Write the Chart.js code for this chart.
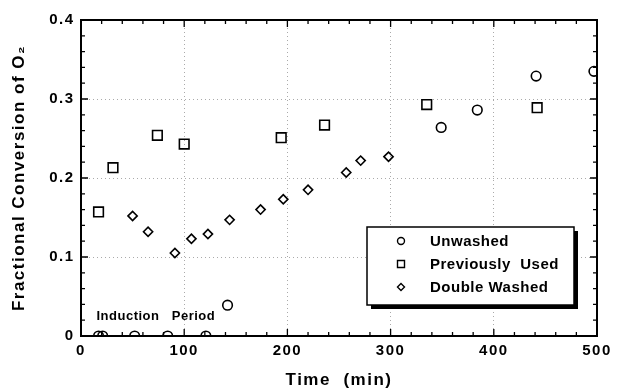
<!DOCTYPE html>
<html>
<head>
<meta charset="utf-8">
<script src="https://cdn.jsdelivr.net/npm/chart.js@4/dist/chart.umd.min.js"></script>
<style>
  html, body { margin: 0; padding: 0; background: #fff; }
  #wrap { width: 619px; height: 391px; }
</style>
</head>
<body>
<div id="wrap"><canvas id="chart" width="619" height="391"></canvas></div>
<script>
// ---- data ----
const unwashedX = [17, 21, 52, 84, 121, 142, 349, 384, 441, 497];
const unwashedY = [0, 0, 0, 0, 0, 0.039, 0.264, 0.286, 0.329, 0.335];

const usedX = [17, 31, 74, 100, 194, 236, 335, 442];
const usedY = [0.157, 0.213, 0.254, 0.243, 0.251, 0.267, 0.293, 0.289];

const doubleX = [50, 65, 91, 107, 123, 144, 174, 196, 220, 257, 271, 298];
const doubleY = [0.152, 0.132, 0.105, 0.123, 0.129, 0.147, 0.160, 0.173, 0.185, 0.207, 0.222, 0.227];

const xTicks = [0, 100, 200, 300, 400, 500];
const yTicks = [0, 0.1, 0.2, 0.3, 0.4];

const seriesNames = ["Unwashed", "Previously  Used", "Double Washed"];
const annotation = { text: "Induction   Period", x: 15, y: 0.025 };

function toPoints(xs, ys) {
    return xs.map((x, i) => ({ x: x, y: ys[i] }));
}

const FONT = "'Liberation Sans', Arial, sans-serif";

// the original lettering is widely spaced
const spacingPlugin = {
    id: 'spacing',
    beforeDraw(chart) { chart.ctx.letterSpacing = '1.5px'; },
    afterDraw(chart) { chart.ctx.letterSpacing = '0px'; }
};

// ---- frame, inward ticks, legend, annotation ----
const framePlugin = {
    id: 'frame',
    afterDatasetsDraw(chart) {
        const ctx = chart.ctx;
        const a = chart.chartArea;
        const xs = chart.scales.x, ys = chart.scales.y;
        ctx.save();
        ctx.strokeStyle = '#000';

        // minor + major ticks pointing inward
        ctx.lineWidth = 1.3;
        for (let v = 0; v <= 500; v += 20) {
            const px = xs.getPixelForValue(v);
            const len = (v % 100 === 0) ? 7 : 4;
            ctx.beginPath();
            ctx.moveTo(px, a.bottom); ctx.lineTo(px, a.bottom - len);
            ctx.moveTo(px, a.top); ctx.lineTo(px, a.top + len);
            ctx.stroke();
        }
        for (let i = 0; i <= 20; i++) {
            const v = i * 0.02;
            const py = ys.getPixelForValue(v);
            const len = (i % 5 === 0) ? 7 : 4;
            ctx.beginPath();
            ctx.moveTo(a.left, py); ctx.lineTo(a.left + len, py);
            ctx.moveTo(a.right, py); ctx.lineTo(a.right - len, py);
            ctx.stroke();
        }

        // frame
        ctx.lineWidth = 2;
        ctx.strokeRect(a.left, a.top, a.right - a.left, a.bottom - a.top);

        // annotation text
        ctx.letterSpacing = '0.5px';
        ctx.fillStyle = '#000';
        ctx.font = "bold 13px " + FONT;
        ctx.textAlign = 'left';
        ctx.textBaseline = 'middle';
        ctx.fillText(annotation.text, xs.getPixelForValue(annotation.x), ys.getPixelForValue(annotation.y));

        // legend box with shadow
        const bx = 367, by = 227, bw = 207, bh = 78;
        ctx.fillStyle = '#000';
        ctx.fillRect(bx + 4, by + 4, bw, bh);
        ctx.fillStyle = '#fff';
        ctx.fillRect(bx, by, bw, bh);
        ctx.lineWidth = 1.5;
        ctx.strokeRect(bx, by, bw, bh);

        ctx.font = "bold 15px " + FONT;
        ctx.fillStyle = '#000';
        const rowY = [241, 264, 287];
        chart.data.datasets.forEach((ds, i) => {
            const mx = 401, my = rowY[i];
            ctx.lineWidth = 1.4;
            ctx.beginPath();
            if (ds.pointStyle === 'circle') {
                ctx.arc(mx, my, 3.5, 0, Math.PI * 2);
            } else if (ds.pointStyle === 'rect') {
                ctx.rect(mx - 3.5, my - 3.5, 7, 7);
            } else {
                ctx.moveTo(mx - 3.5, my); ctx.lineTo(mx, my - 3.5);
                ctx.lineTo(mx + 3.5, my); ctx.lineTo(mx, my + 3.5);
                ctx.closePath();
            }
            ctx.stroke();
            ctx.fillText(seriesNames[i], 430, my + 1);
        });
        ctx.restore();
    }
};

const common = {
    showLine: false,
    backgroundColor: 'rgba(255,255,255,0)',
    borderColor: '#000',
    pointBorderWidth: 1.6,
    pointBackgroundColor: 'rgba(255,255,255,0)',
    pointBorderColor: '#000'
};

new Chart(document.getElementById('chart'), {
    type: 'scatter',
    data: {
        datasets: [
            Object.assign({ label: seriesNames[0], data: toPoints(unwashedX, unwashedY), pointStyle: 'circle', pointRadius: 4.8 }, common),
            Object.assign({ label: seriesNames[1], data: toPoints(usedX, usedY), pointStyle: 'rect', pointRadius: 6.8 }, common),
            Object.assign({ label: seriesNames[2], data: toPoints(doubleX, doubleY), pointStyle: 'rectRot', pointRadius: 4.6 }, common)
        ]
    },
    options: {
        responsive: false,
        animation: false,
        layout: { padding: { top: 20, right: 22, left: 0, bottom: 0 } },
        plugins: { legend: { display: false }, tooltip: { enabled: false } },
        scales: {
            x: {
                type: 'linear', min: 0, max: 500,
                afterBuildTicks(s) { s.ticks = xTicks.map(v => ({ value: v })); },
                afterFit(s) { s.height = 55; },
                grid: { color: '#aaa', lineWidth: 1, drawTicks: false },
                border: { display: false, dash: [1, 3] },
                ticks: { padding: 6, color: '#000', font: { family: FONT, size: 15, weight: 'bold' } },
                title: { display: true, text: 'Time  (min)', color: '#000', padding: { top: 0, bottom: 0 },
                         font: { family: FONT, size: 17, weight: 'bold' } }
            },
            y: {
                type: 'linear', min: 0, max: 0.4,
                afterBuildTicks(s) { s.ticks = yTicks.map(v => ({ value: v })); },
                afterFit(s) { s.width = 81; },
                grid: { color: '#aaa', lineWidth: 1, drawTicks: false },
                border: { display: false, dash: [1, 3] },
                ticks: { padding: 6.5, color: '#000', font: { family: FONT, size: 15, weight: 'bold' },
                         callback: v => v === 0 ? '0' : v.toFixed(1) },
                title: { display: true, text: 'Fractional Conversion of O\u2082', color: '#000', padding: { top: 9, bottom: 0 },
                         font: { family: FONT, size: 17, weight: 'bold' } }
            }
        }
    },
    plugins: [spacingPlugin, framePlugin]
});
</script>
</body>
</html>
